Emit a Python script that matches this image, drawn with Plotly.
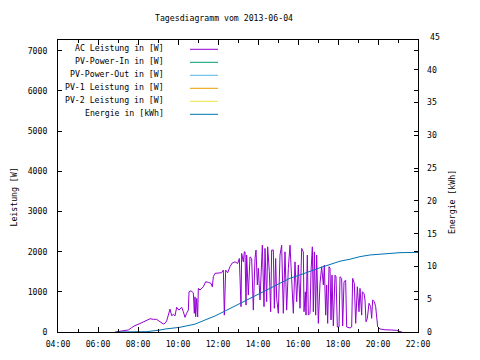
import plotly.graph_objects as go

DAY = "2013-06-04"

# AC Leistung in [W]
ac_times = ["06:51","07:00","07:16","07:31","07:41","07:51","08:06","08:21","08:36","08:46","08:56","09:06","09:16","09:21","09:26","09:31","09:36","09:41","09:46","09:51","09:56","10:03","10:11","10:16","10:21","10:26","10:31","10:33","10:39","10:46","10:49","10:51","10:53","10:56","10:59","11:01","11:06","11:16","11:23","11:31","11:39","11:43","11:46","11:51","12:01","12:11","12:16","12:19","12:23","12:29","12:36","12:43","12:51","12:59","13:04","13:09","13:11","13:16","13:19","13:21","13:24","13:26","13:31","13:36","13:41","13:46","13:51","13:54","13:58","14:01","14:06","14:09","14:13","14:18","14:21","14:26","14:29","14:34","14:38","14:41","14:46","14:49","14:53","14:56","15:01","15:06","15:11","15:16","15:21","15:26","15:31","15:36","15:41","15:46","15:51","15:56","16:01","16:06","16:11","16:16","16:18","16:22","16:24","16:28","16:31","16:36","16:39","16:43","16:46","16:49","16:53","16:56","17:01","17:06","17:11","17:16","17:19","17:23","17:26","17:29","17:33","17:36","17:39","17:42","17:46","17:51","17:54","17:58","18:03","18:06","18:11","18:14","18:18","18:23","18:26","18:36","18:41","18:44","18:49","18:53","18:58","19:03","19:06","19:11","19:13","19:18","19:21","19:24","19:28","19:33","19:38","19:41","19:44","19:49","19:53","19:56","19:59","20:06","20:21","20:41","20:56","21:06","21:12"]
ac_watt = [0,10,20,50,110,160,210,260,330,315,315,255,200,215,275,420,570,405,440,400,615,545,615,505,365,465,545,1000,1025,975,465,875,380,835,375,1085,1045,1125,1250,1235,1210,1125,1375,1460,1460,1475,1540,420,1540,1475,1625,1720,1745,1705,1830,630,1955,1745,1995,1995,670,1915,920,1870,1830,545,1830,2040,1170,1585,795,1415,2160,630,2080,755,2120,1500,505,2040,2040,590,1830,835,465,1915,2160,465,1995,545,1585,2160,1170,465,1745,755,1665,590,2080,1995,505,1000,420,1915,420,465,1500,2120,505,1995,420,1915,215,1210,1625,1170,1665,420,1170,215,1625,1585,300,1415,150,1415,1375,125,125,1375,1335,150,1250,1290,125,100,125,1335,1210,215,1125,505,1085,420,1000,960,795,255,340,715,630,340,795,755,630,420,130,75,55,50,40,10,0]

# Energie in [kWh]
en_times = ["06:56","08:26","09:06","09:21","10:06","10:21","10:51","11:21","11:51","12:21","12:51","13:16","13:36","14:06","14:36","15:06","15:36","16:06","16:36","17:06","17:36","18:06","18:36","19:06","19:36","20:06","20:36","21:06","22:00"]
en_kwh = [0,0.05,0.3,0.45,0.72,0.9,1.2,1.83,2.44,3.2,3.97,4.6,5.1,5.9,6.67,7.4,8.2,8.7,9.3,9.8,10.3,10.8,11.1,11.5,11.75,11.9,12.0,12.1,12.15]

legend_names = ["AC Leistung in [W]", "PV-Power-In in [W]", "PV-Power-Out in [W]",
                "PV-1 Leistung in [W]", "PV-2 Leistung in [W]", "Energie in [kWh]"]
legend_colors = ["#9400d3", "#009e73", "#56b4e9", "#e69f00", "#f0e442", "#0072b2"]

x_ticks = ["04:00","06:00","08:00","10:00","12:00","14:00","16:00","18:00","20:00","22:00"]
y_ticks = [0,1000,2000,3000,4000,5000,6000,7000]
y2_ticks = [0,5,10,15,20,25,30,35,40]

FONT = "DejaVu Sans Mono"
FS = 8.2

fig = go.Figure()
fig.add_trace(go.Scatter(x=[f"{DAY} {t}" for t in ac_times], y=ac_watt, mode="lines",
                         line=dict(color=legend_colors[0], width=1), yaxis="y", showlegend=False))
fig.add_trace(go.Scatter(x=[f"{DAY} {t}" for t in en_times], y=en_kwh, mode="lines",
                         line=dict(color=legend_colors[5], width=1), yaxis="y2", showlegend=False))

# plot area geometry in page pixels (the page body has an 8px margin)
L, R, T, B = 58, 418, 40, 332
W, H = R - L, B - T
OFF = 8
def px(xp): return (xp - L) / W
def py(yp): return (B - yp) / H

shapes = []
annotations = []
for i, (name, col) in enumerate(zip(legend_names, legend_colors)):
    yl = 49.3 + 13.0 * i
    shapes.append(dict(type="line", xref="paper", yref="paper", x0=px(190), x1=px(218),
                       y0=py(yl), y1=py(yl), line=dict(color=col, width=1)))
    annotations.append(dict(text=name, xref="paper", yref="paper", x=px(166), y=py(yl - 1.5),
                            xanchor="right", yanchor="middle", showarrow=False,
                            font=dict(family=FONT, size=FS, color="black")))

annotations.append(dict(text="Tagesdiagramm vom 2013-06-04", xref="paper", yref="paper",
                        x=px(224), y=py(18), xanchor="center", yanchor="middle", showarrow=False,
                        font=dict(family=FONT, size=FS, color="black")))
annotations.append(dict(text="Leistung [W]", xref="paper", yref="paper", x=px(13.5), y=py(197),
                        xanchor="center", yanchor="middle", showarrow=False, textangle=-90,
                        font=dict(family=FONT, size=FS, color="black")))
annotations.append(dict(text="Energie [kWh]", xref="paper", yref="paper", x=px(452), y=py(202),
                        xanchor="center", yanchor="middle", showarrow=False, textangle=-90,
                        font=dict(family=FONT, size=FS, color="black")))
annotations.append(dict(text="45", xref="paper", yref="paper", x=px(428), y=py(36.7),
                        xanchor="left", yanchor="middle", showarrow=False,
                        font=dict(family=FONT, size=FS, color="black")))

FW, FH = 480 - OFF, 360 - OFF
fig.update_layout(
    width=FW, height=FH,
    margin=dict(l=L - OFF, r=FW - (R - OFF), t=T - OFF, b=FH - (B - OFF), autoexpand=False),
    paper_bgcolor="white", plot_bgcolor="white",
    showlegend=False,
    font=dict(family=FONT, size=FS, color="black"),
    xaxis=dict(type="date", range=[f"{DAY} 04:00", f"{DAY} 22:00"],
               tickvals=[f"{DAY} {t}" for t in x_ticks], ticktext=x_ticks,
               ticks="inside", ticklen=5, tickcolor="black", tickwidth=1,
               minor=dict(dtick=3600000, tick0=f"{DAY} 04:00", ticks="inside", ticklen=3, tickcolor="black"),
               showline=True, linecolor="black", linewidth=1, mirror="ticks",
               showgrid=False, zeroline=False, ticklabelstandoff=4, automargin=False,
               tickfont=dict(family=FONT, size=FS, color="black")),
    yaxis=dict(range=[0, 7266], tickvals=y_ticks, ticktext=[str(v) for v in y_ticks],
               ticks="inside", ticklen=4, tickcolor="black",
               showline=True, linecolor="black", linewidth=1, mirror="ticks",
               showgrid=False, zeroline=False, ticklabelstandoff=8, automargin=False,
               tickfont=dict(family=FONT, size=FS, color="black")),
    yaxis2=dict(range=[0, 44.54], tickvals=y2_ticks, ticktext=[str(v) for v in y2_ticks],
                overlaying="y", side="right",
                ticks="inside", ticklen=4, tickcolor="black",
                showline=False, showgrid=False, zeroline=False, ticklabelstandoff=8, automargin=False,
                tickfont=dict(family=FONT, size=FS, color="black")),
    shapes=shapes, annotations=annotations,
)

fig.write_html("out.html")
